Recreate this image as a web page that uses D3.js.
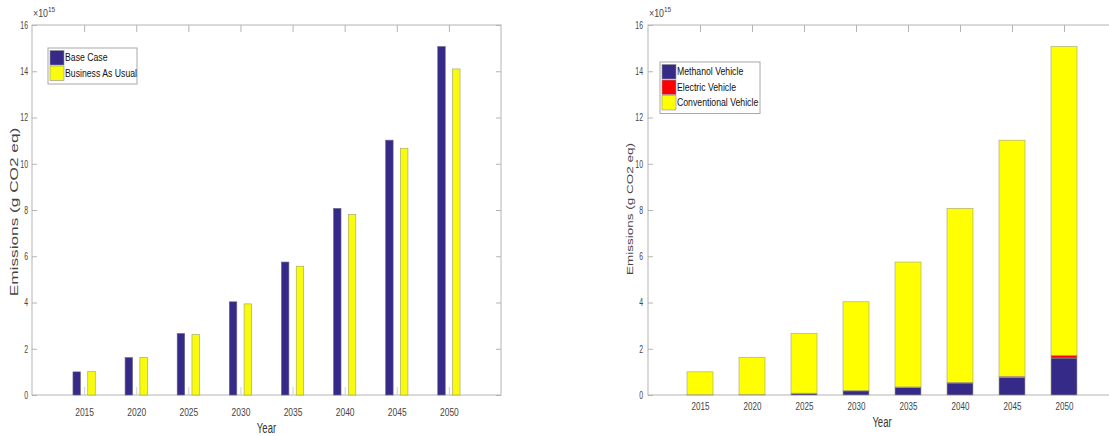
<!DOCTYPE html>
<html>
<head>
<meta charset="utf-8">
<script src="https://cdn.jsdelivr.net/npm/d3@7"></script>
<style>
  body { margin: 0; background: #fff; }
  svg { display: block; }
</style>
</head>
<body>
<div id="chart"></div>
<script>
// data, in units of 1e15 g CO2 eq
var years = [2015, 2020, 2025, 2030, 2035, 2040, 2045, 2050];
var baseCase = [1.00, 1.62, 2.66, 4.03, 5.75, 8.07, 11.02, 15.07];
var businessAsUsual = [1.01, 1.63, 2.61, 3.94, 5.57, 7.81, 10.67, 14.10];
var methanol = [0.01, 0.02, 0.07, 0.18, 0.33, 0.52, 0.76, 1.60];
var electric = [0.002, 0.004, 0.01, 0.01, 0.02, 0.03, 0.05, 0.12];
var conventional = [0.988, 1.596, 2.58, 3.84, 5.40, 7.52, 10.21, 13.35];
var yTicks = [0, 2, 4, 6, 8, 10, 12, 14, 16];

var W = 1109, H = 436;
var font = '"Liberation Sans", Arial, Helvetica, sans-serif';
var axisCol = "#b4b4b4";
var textCol = "#454545";

var svg = d3.select("#chart").append("svg")
	.attr("width", W)
	.attr("height", H);

// the original figure was stretched vertically, so text is squeezed sideways
function narrow(sel, s) {
	sel.each(function () {
		var t = d3.select(this);
		var x = +t.attr("x") || 0;
		t.attr("x", x / s).attr("transform", "scale(" + s + ",1)");
	});
}

function drawFrame(o) {
	var x = d3.scaleLinear().domain([2010, 2055]).range([o.left, o.right]);
	var y = d3.scaleLinear().domain([0, 16]).range([o.bottom, o.top]);
	var g = svg.append("g");

	g.append("rect")
		.attr("x", o.left).attr("y", o.top)
		.attr("width", o.right - o.left).attr("height", o.bottom - o.top)
		.attr("fill", "none").attr("stroke", axisCol).attr("stroke-width", 1);

	var ya = g.append("g")
		.attr("transform", "translate(" + o.left + ",0)")
		.call(d3.axisLeft(y).tickValues(yTicks).tickSize(-5).tickPadding(o.yPad));
	ya.select(".domain").remove();
	ya.selectAll("line").attr("stroke", axisCol);
	ya.selectAll("text").attr("font-family", font).attr("font-size", 10.5).attr("fill", textCol)
		.call(narrow, 0.66);

	var yr = g.append("g")
		.attr("transform", "translate(" + o.right + ",0)")
		.call(d3.axisRight(y).tickValues(yTicks).tickSize(-5).tickFormat(""));
	yr.select(".domain").remove();
	yr.selectAll("line").attr("stroke", axisCol);

	var xa = g.append("g")
		.attr("transform", "translate(0," + o.bottom + ")")
		.call(d3.axisBottom(x).tickValues(years).tickSize(-8).tickPadding(o.xPad).tickFormat(d3.format("d")));
	xa.select(".domain").remove();
	xa.selectAll("line").attr("stroke", "#d0d0d0");
	xa.selectAll("text").attr("font-family", font).attr("font-size", o.xSize).attr("fill", textCol)
		.call(narrow, 0.73);

	var xt = g.append("g")
		.attr("transform", "translate(0," + o.top + ")")
		.call(d3.axisTop(x).tickValues(years).tickSize(-7).tickFormat(""));
	xt.select(".domain").remove();
	xt.selectAll("line").attr("stroke", axisCol);

	var ex = g.append("text")
		.attr("x", o.left + 1).attr("y", o.top - 8)
		.attr("font-family", font).attr("font-size", 11).attr("fill", textCol);
	ex.append("tspan").text("\u00d710");
	ex.append("tspan").attr("dy", -5).attr("font-size", 8).text("15");
	narrow(ex, 0.8);

	g.append("text")
		.attr("transform", "translate(" + o.labelX + "," + o.labelY + ") rotate(-90) scale(" + o.labelStretch + ",1)")
		.attr("text-anchor", "middle")
		.attr("font-family", font)
		.attr("font-size", o.labelSize).attr("fill", "#444")
		.text("Emissions (g CO2 eq)");

	g.append("text")
		.attr("x", x(2032.5)).attr("y", o.yearY)
		.attr("text-anchor", "middle")
		.attr("font-family", font).attr("font-size", 14).attr("fill", "#333")
		.text("Year")
		.call(narrow, 0.68);

	return { x: x, y: y, g: g };
}

function drawLegend(g, lx, ly, w, items) {
	var rowH = 15.5;
	g.append("rect")
		.attr("x", lx).attr("y", ly)
		.attr("width", w).attr("height", items.length * rowH + 5)
		.attr("fill", "#fff").attr("stroke", "#a8a8a8");
	items.forEach(function (it, i) {
		g.append("rect")
			.attr("x", lx + 2).attr("y", ly + 2.5 + i * rowH)
			.attr("width", 14).attr("height", rowH - 1)
			.attr("fill", it.color).attr("stroke", "#909090").attr("stroke-width", 0.6);
		g.append("text")
			.attr("x", lx + 17).attr("y", ly + 2.5 + i * rowH + 11)
			.attr("font-family", font).attr("font-size", 11.6).attr("fill", "#111")
			.text(it.name)
			.call(narrow, 0.75);
	});
}

// left: grouped bars
var L = drawFrame({ left: 32, right: 501, top: 25, bottom: 395, yPad: 4, xPad: 13, xSize: 11.6,
	labelX: 18, labelY: 212, labelSize: 11.5, labelStretch: 1.5, yearY: 433 });
var bw = 0.72, off = 0.71;
L.g.selectAll(".base").data(years).enter().append("rect")
	.attr("x", function (d) { return L.x(d - off - bw / 2); })
	.attr("width", function (d) { return L.x(d + bw / 2) - L.x(d - bw / 2); })
	.attr("y", function (d, i) { return L.y(baseCase[i]); })
	.attr("height", function (d, i) { return L.y(0) - L.y(baseCase[i]); })
	.attr("fill", "#352a87").attr("stroke", "#6a6a8a").attr("stroke-width", 0.6);
L.g.selectAll(".bau").data(years).enter().append("rect")
	.attr("x", function (d) { return L.x(d + off - bw / 2); })
	.attr("width", function (d) { return L.x(d + bw / 2) - L.x(d - bw / 2); })
	.attr("y", function (d, i) { return L.y(businessAsUsual[i]); })
	.attr("height", function (d, i) { return L.y(0) - L.y(businessAsUsual[i]); })
	.attr("fill", "#f9fb0e").attr("stroke", "#a0a060").attr("stroke-width", 0.6);
drawLegend(L.g, 48, 48, 89, [
	{ name: "Base Case", color: "#352a87" },
	{ name: "Business As Usual", color: "#f9fb0e" }
]);

// right: stacked bars
var R = drawFrame({ left: 648, right: 1116, top: 25, bottom: 395, yPad: 5, xPad: 7, xSize: 11,
	labelX: 633, labelY: 209, labelSize: 9.5, labelStretch: 1.42, yearY: 427 });
var series = [
	{ name: "Methanol Vehicle", color: "#352a87", values: methanol },
	{ name: "Electric Vehicle", color: "#ff0000", values: electric },
	{ name: "Conventional Vehicle", color: "#ffff00", values: conventional }
];
var rows = years.map(function (yr, i) {
	return { year: yr, m: methanol[i], e: electric[i], c: conventional[i] };
});
var stack = d3.stack().keys(["m", "e", "c"])(rows);
var sw = 2.5;
R.g.selectAll(".layer").data(stack).enter().append("g")
	.attr("fill", function (d, i) { return series[i].color; })
	.selectAll("rect").data(function (d) { return d; }).enter().append("rect")
	.attr("x", function (d) { return R.x(d.data.year - sw / 2); })
	.attr("width", R.x(2010 + sw) - R.x(2010))
	.attr("y", function (d) { return R.y(d[1]); })
	.attr("height", function (d) { return R.y(d[0]) - R.y(d[1]); })
	.attr("stroke", "#a0a080").attr("stroke-width", 0.6);
drawLegend(R.g, 660, 62, 100, series);
</script>
</body>
</html>
